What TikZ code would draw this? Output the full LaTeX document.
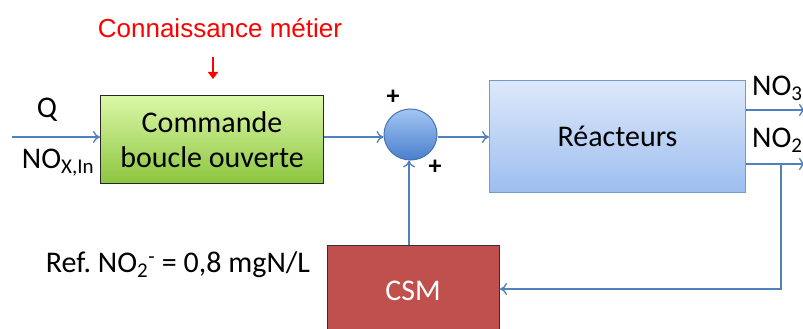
\documentclass[tikz,border=0pt]{standalone}
\usepackage{fontspec}
\setmainfont{Carlito}
\newfontfamily\arialfont{Liberation Sans}
\usetikzlibrary{arrows.meta,shapes.geometric}
\definecolor{lineblue}{HTML}{4F81BD}
\definecolor{csmred}{HTML}{C0504D}
\definecolor{gtop}{HTML}{DBF7A8}
\definecolor{gbot}{HTML}{8CC63F}
\definecolor{btop}{HTML}{DDE9FB}
\definecolor{bbot}{HTML}{9DBDEF}
\definecolor{ctop}{HTML}{A3C6F2}
\definecolor{cbot}{HTML}{4A7ECF}
\tikzset{
  conn/.style={draw=lineblue, line width=1.3pt, -{To[length=7pt,width=12pt]}},
  lbl/.style={font=\fontsize{30}{36}\selectfont, inner sep=0pt},
}
\frenchspacing
\begin{document}
\begin{tikzpicture}[x=1pt,y=-1pt]
\useasboundingbox (0,0) rectangle (803,329);
\clip (0,0) rectangle (803,329);
% green box
\node[draw=black!85, line width=1pt, minimum width=223pt, minimum height=88pt, top color=gtop, bottom color=gbot, inner sep=0pt, align=center, font=\fontsize{30}{35}\selectfont, anchor=north west] (cmd) at (100,95) {Commande\\boucle ouverte};
% sum circle
\node[ellipse, draw=lineblue!90!black, line width=1pt, minimum width=53pt, minimum height=51pt, top color=ctop, bottom color=cbot, inner sep=0pt] (sum) at (410.5,134.5) {};
% reactors
\node[draw=lineblue!80, line width=1pt, minimum width=256pt, minimum height=112pt, top color=btop, bottom color=bbot, inner sep=0pt, font=\fontsize{30}{36}\selectfont, anchor=north west] (reac) at (489,80) {Réacteurs};
% CSM
\node[draw=black!80, line width=1pt, fill=csmred, minimum width=172pt, minimum height=100pt, inner sep=0pt, anchor=north west] (csm) at (327,245) {};
\node[lbl, text=white] (csmtxt) at (413,291) {CSM};
% labels
\node[lbl, text=red, font=\arialfont\fontsize{26}{30}\selectfont] (know) at (220,28) {Connaissance métier};
\coordinate (kn1) at (213,57);
\draw[red, line width=2.8pt, -{Triangle[length=7pt,width=10pt]}] (kn1) -- (213,79);
\node[lbl] (q) at (47,110) {Q};
\node[lbl] (nox) at (58,163) {NO\textsubscript{X,In}};
\coordinate (in) at (12,137);
\draw[conn] (in) -- (in -| cmd.west);
\draw[conn] (cmd.east |- 0,137) -- (sum.west |- 0,137);
\draw[conn] (sum.east |- 0,137) -- (reac.west |- 0,137);
\node[lbl, font=\bfseries\fontsize{26}{30}\selectfont] (plus1) at (393,97) {+};
\node[lbl, font=\bfseries\fontsize{26}{30}\selectfont] (plus2) at (435,167) {+};
% outputs
\coordinate (o3) at (806,110);
\coordinate (o2) at (806,164);
\draw[conn] (reac.east |- o3) -- (o3);
\draw[conn] (reac.east |- o2) -- (o2);
\node[lbl, anchor=west] (no3) at (752,88) {NO\textsubscript{3}\textsuperscript{-}};
\node[lbl, anchor=west] (no2) at (752,140) {NO\textsubscript{2}\textsuperscript{-}};
% feedback
\coordinate (fb1) at (781,164);
\coordinate (fb2) at (781,289);
\draw[conn] (fb1) -- (fb2) -- (csm.east |- fb2);
\draw[conn] (csm.north -| 409,0) -- (sum.south -| 409,0);
\node[lbl] (ref) at (178,265) {Ref. NO\textsubscript{2}\textsuperscript{-} = 0,8 mgN/L};
\end{tikzpicture}
\end{document}
